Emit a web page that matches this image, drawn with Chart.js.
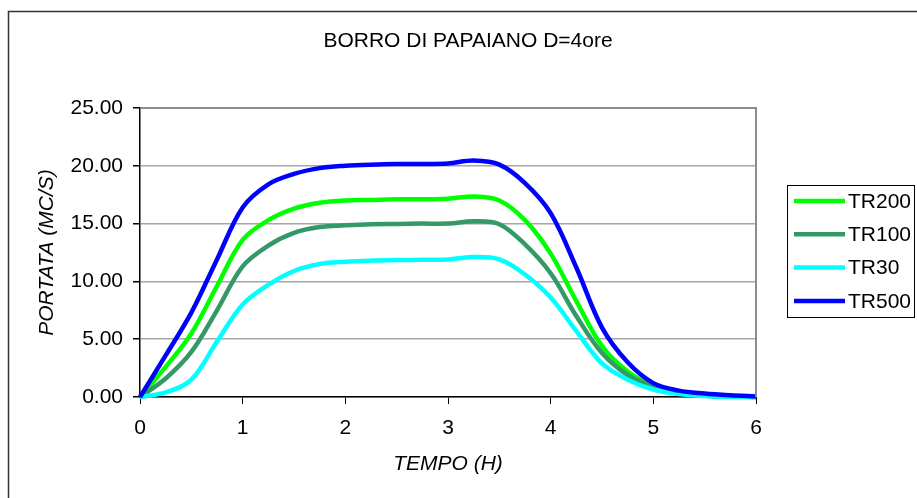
<!DOCTYPE html>
<html>
<head>
<meta charset="utf-8">
<script src="https://cdn.jsdelivr.net/npm/chart.js@4"></script>
<style>
  html, body { margin: 0; padding: 0; background: #fff; }
  canvas { display: block; }
</style>
</head>
<body>
<canvas id="idrogramma" width="917" height="498"></canvas>
<script>
// tempo in ore, portate in mc/s
const TEMPO = [0, 0.25, 0.5, 0.75, 1, 1.25, 1.5, 1.75, 2, 2.25, 2.5, 2.75, 3, 3.25, 3.5, 3.75, 4, 4.25, 4.5, 4.75, 5, 5.25, 5.5, 5.75, 6];
const TR200 = [0, 2.6, 5.5, 9.6, 13.6, 15.3, 16.3, 16.8, 17.0, 17.05, 17.1, 17.1, 17.15, 17.35, 17.0, 15.3, 12.4, 8.3, 4.4, 2.2, 0.95, 0.35, 0.12, 0.04, 0];
const TR100 = [0, 1.6, 3.9, 7.5, 11.3, 13.1, 14.2, 14.7, 14.85, 14.95, 14.97, 15.0, 15.0, 15.2, 14.95, 13.2, 10.7, 7.0, 3.8, 1.9, 0.9, 0.35, 0.1, 0.03, 0];
const TR30 = [0, 0.4, 1.5, 4.8, 8.0, 9.7, 10.9, 11.5, 11.7, 11.8, 11.85, 11.87, 11.9, 12.1, 11.9, 10.6, 8.6, 5.7, 2.9, 1.5, 0.65, 0.25, 0.08, 0.02, 0];
const TR500 = [0, 3.6, 7.3, 11.9, 16.4, 18.4, 19.3, 19.8, 20.0, 20.1, 20.15, 20.15, 20.2, 20.45, 20.1, 18.5, 15.9, 11.2, 6.0, 3.0, 1.2, 0.55, 0.3, 0.15, 0.05];

const SERIE = ['TR200', 'TR100', 'TR30', 'TR500'];
const COLORI = ['#00ff00', '#339966', '#00ffff', '#0000ff'];
const VALORI = [TR200, TR100, TR30, TR500];

const TITOLO = 'BORRO DI PAPAIANO D=4ore';
const FONT = "'Liberation Sans', Arial, sans-serif";

Chart.defaults.font.family = FONT;
Chart.defaults.font.size = 21;
Chart.defaults.color = '#000';

// cornice, titolo, bordo area del grafico e legenda in stile Excel
const excelPlugin = {
    id: 'excelStyle',
    afterDraw(chart) {
        const ctx = chart.ctx;
        const a = chart.chartArea;
        ctx.save();

        ctx.strokeStyle = '#333';
        ctx.lineWidth = 1.5;
        ctx.beginPath();
        ctx.moveTo(917, 11.5); ctx.lineTo(8.5, 11.5); ctx.lineTo(8.5, 498);
        ctx.stroke();

        ctx.strokeStyle = '#8c8c8c';
        ctx.lineWidth = 2;
        ctx.beginPath();
        ctx.moveTo(a.left, a.top); ctx.lineTo(a.right, a.top); ctx.lineTo(a.right, a.bottom);
        ctx.stroke();

        ctx.fillStyle = '#000';
        ctx.font = `21px ${FONT}`;
        ctx.textAlign = 'center';
        ctx.textBaseline = 'middle';
        ctx.fillText(TITOLO, 468, 41);

        // legenda
        ctx.strokeStyle = '#000';
        ctx.lineWidth = 1;
        ctx.strokeRect(787.5, 185.5, 127, 132);
        ctx.textAlign = 'left';
        SERIE.forEach((nome, i) => {
            const y = 201 + i * 33.3;
            ctx.strokeStyle = COLORI[i];
            ctx.lineWidth = 4.5;
            ctx.beginPath();
            ctx.moveTo(794, y); ctx.lineTo(845, y);
            ctx.stroke();
            ctx.fillText(nome, 848, y + 1);
        });
        ctx.restore();
    }
};

new Chart(document.getElementById('idrogramma'), {
    type: 'line',
    data: {
        datasets: SERIE.map((nome, i) => ({
            label: nome,
            data: TEMPO.map((t, k) => ({ x: t, y: VALORI[i][k] })),
            borderColor: COLORI[i],
            backgroundColor: COLORI[i],
            borderWidth: 4.5,
            pointRadius: 0,
            tension: 0.35,
            clip: false,
            order: SERIE.length - i
        }))
    },
    options: {
        responsive: false,
        animation: false,
        devicePixelRatio: 1,
        layout: { padding: { left: 0, top: 108, right: 161, bottom: 0 } },
        plugins: { legend: { display: false }, title: { display: false }, tooltip: { enabled: false } },
        scales: {
            x: {
                type: 'linear', min: 0, max: 6,
                afterFit: s => { s.height = 101; },
                ticks: { stepSize: 1, padding: 12 },
                grid: { drawOnChartArea: false, drawTicks: true, tickLength: 7, tickColor: '#000' },
                border: { color: '#000', width: 1.5 },
                title: { display: true, text: 'TEMPO (H)', font: { style: 'italic' }, padding: { top: 0, bottom: 21 } }
            },
            y: {
                min: 0, max: 25,
                afterFit: s => { s.width = 140; },
                ticks: { stepSize: 5, padding: 10, callback: v => v.toFixed(2) },
                grid: { color: '#a6a6a6', lineWidth: 1.5, tickLength: 7, tickColor: '#000' },
                border: { color: '#000', width: 1.5 },
                title: { display: true, text: 'PORTATA (MC/S)', font: { style: 'italic' }, padding: { top: 35, bottom: 0 } }
            }
        }
    },
    plugins: [excelPlugin]
});
</script>
</body>
</html>
